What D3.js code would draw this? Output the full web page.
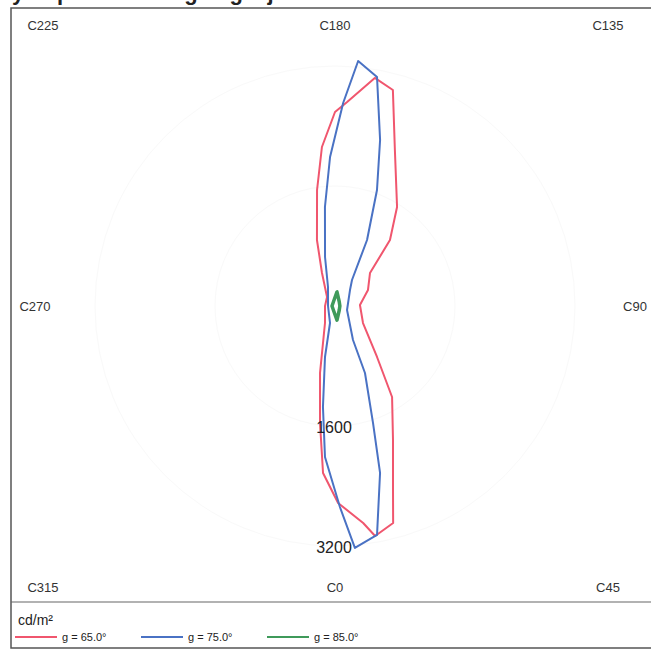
<!DOCTYPE html>
<html>
<head>
<meta charset="utf-8">
<script src="https://d3js.org/d3.v7.min.js"></script>
<style>
  body { margin: 0; background: #fff; }
  svg { display: block; font-family: "Liberation Sans", Arial, sans-serif; }
</style>
</head>
<body>
<script>
// C-plane angles (deg) and luminance (cd/m2)
var red65C = [0.9, 7.4, 9.9, 15.0, 17.5, 23.4, 32.1, 39.5, 58.7, 92.3, 115.9, 133.3, 140.2, 147.9, 159.0, 165.0, 170.1, 176.6, 180, 184.7, 188.8, 195.3, 201.5, 221.6, 270, 329.5, 347.4, 352.7, 355.9];
var red65L = [2627, 2917, 3113, 2995, 2572, 1947, 1432, 881, 437, 333, 489, 641, 1145, 1557, 2228, 2982, 3087, 2725, 2587, 2127, 1565, 912, 473, 160, 133, 263, 915, 1573, 2232];

var blue75C = [1.4, 4.7, 10.4, 15.1, 18.0, 24.1, 27.9, 71.6, 136.8, 146.8, 154.1, 160.1, 164.8, 169.6, 174.6, 177.7, 181.9, 185.8, 191.5, 200.2, 270, 343.6, 348.9, 353.2, 356.2];
var blue75L = [2681, 3237, 3104, 2306, 1640, 979, 513, 169, 292, 414, 978, 1645, 2293, 3104, 3281, 2709, 1988, 1327, 667, 270, 93, 236, 693, 1356, 2017];

var green85C = [8, 45, 90, 135, 172, 200, 270, 340];
var green85L = [190, 80, 65, 80, 190, 60, 40, 60];

var seriesNames = ["g = 65.0°", "g = 75.0°", "g = 85.0°"];
var seriesColors = ["#f0566e", "#4a72c4", "#3f9a5a"];

var angleLabels = [0, 45, 90, 135, 180, 225, 270, 315];
var radialTicks = [1600, 3200];

var width = 651, height = 651;
var cx = 335, cy = 306;

var svg = d3.select("body").append("svg")
    .attr("width", width)
    .attr("height", height);

// title, cut off at the top of the scan (only descenders show)
svg.append("text")
    .attr("x", -92)
    .attr("y", 0)
    .style("font-size", "22px")
    .style("font-weight", "bold")
    .attr("fill", "#222")
    .text("Luminancy of polar viewing angle jada");

// frame and legend separator
svg.append("rect")
    .attr("x", 11)
    .attr("y", 8)
    .attr("width", 680)
    .attr("height", 640)
    .attr("fill", "none")
    .attr("stroke", "#555")
    .attr("stroke-width", 1.5);

svg.append("line")
    .attr("x1", 11).attr("x2", 651)
    .attr("y1", 602).attr("y2", 602)
    .attr("stroke", "#666")
    .attr("stroke-width", 1.2);

// radial scale
var r = d3.scaleLinear().domain([0, 3200]).range([0, 240]);

var g = svg.append("g")
    .attr("transform", "translate(" + cx + "," + cy + ")");

// faint grid (barely visible in the scan)
g.selectAll(".ring")
    .data(radialTicks)
  .enter().append("circle")
    .attr("r", function(d) { return r(d); })
    .attr("fill", "none")
    .attr("stroke", "#f9f9f9");

// C0 is at the bottom, C90 on the right
function ang(c) { return Math.PI - c * Math.PI / 180; }

var radial = d3.lineRadial()
    .curve(d3.curveLinearClosed)
    .angle(function(d) { return ang(d[0]); })
    .radius(function(d) { return r(d[1]); });

var series = [
    d3.zip(red65C, red65L),
    d3.zip(blue75C, blue75L),
    d3.zip(green85C, green85L)
];

g.selectAll(".curve")
    .data(series)
  .enter().append("path")
    .attr("class", "curve")
    .attr("d", radial)
    .attr("fill", "none")
    .attr("stroke", function(d, i) { return seriesColors[i]; })
    .attr("stroke-width", function(d, i) { return i == 2 ? 3.5 : 2; })
    .attr("stroke-linejoin", "round");

// radial tick labels along C0
g.selectAll(".rlabel")
    .data(radialTicks)
  .enter().append("text")
    .attr("x", -1)
    .attr("y", function(d) { return r(d) + 1; })
    .attr("dy", "0.35em")
    .style("text-anchor", "middle")
    .style("font-size", "16px")
    .attr("fill", "#222")
    .text(function(d) { return d; });

// C-plane labels round the frame
svg.selectAll(".alabel")
    .data(angleLabels)
  .enter().append("text")
    .attr("x", function(d) {
        var s = Math.round(Math.sin(d * Math.PI / 180));
        if (d % 90 == 0) return cx + s * 300;
        return cx + s * (s > 0 ? 273 : 292);
    })
    .attr("y", function(d) {
        var c = Math.round(Math.cos(d * Math.PI / 180));
        return cy + c * 281;
    })
    .attr("dy", "0.35em")
    .style("text-anchor", "middle")
    .style("font-size", "13px")
    .attr("fill", "#333")
    .text(function(d) { return "C" + d; });

// legend
svg.append("text")
    .attr("x", 18)
    .attr("y", 625)
    .style("font-size", "14px")
    .attr("fill", "#222")
    .text("cd/m²");

var legend = svg.selectAll(".legend")
    .data(seriesNames)
  .enter().append("g")
    .attr("class", "legend")
    .attr("transform", function(d, i) { return "translate(" + (15 + i * 126) + ",637)"; });

legend.append("line")
    .attr("x1", 0).attr("x2", 42)
    .attr("stroke", function(d, i) { return seriesColors[i]; })
    .attr("stroke-width", 2);

legend.append("text")
    .attr("x", 47)
    .attr("y", 4)
    .style("font-size", "11px")
    .attr("fill", "#222")
    .text(function(d) { return d; });
</script>
</body>
</html>
